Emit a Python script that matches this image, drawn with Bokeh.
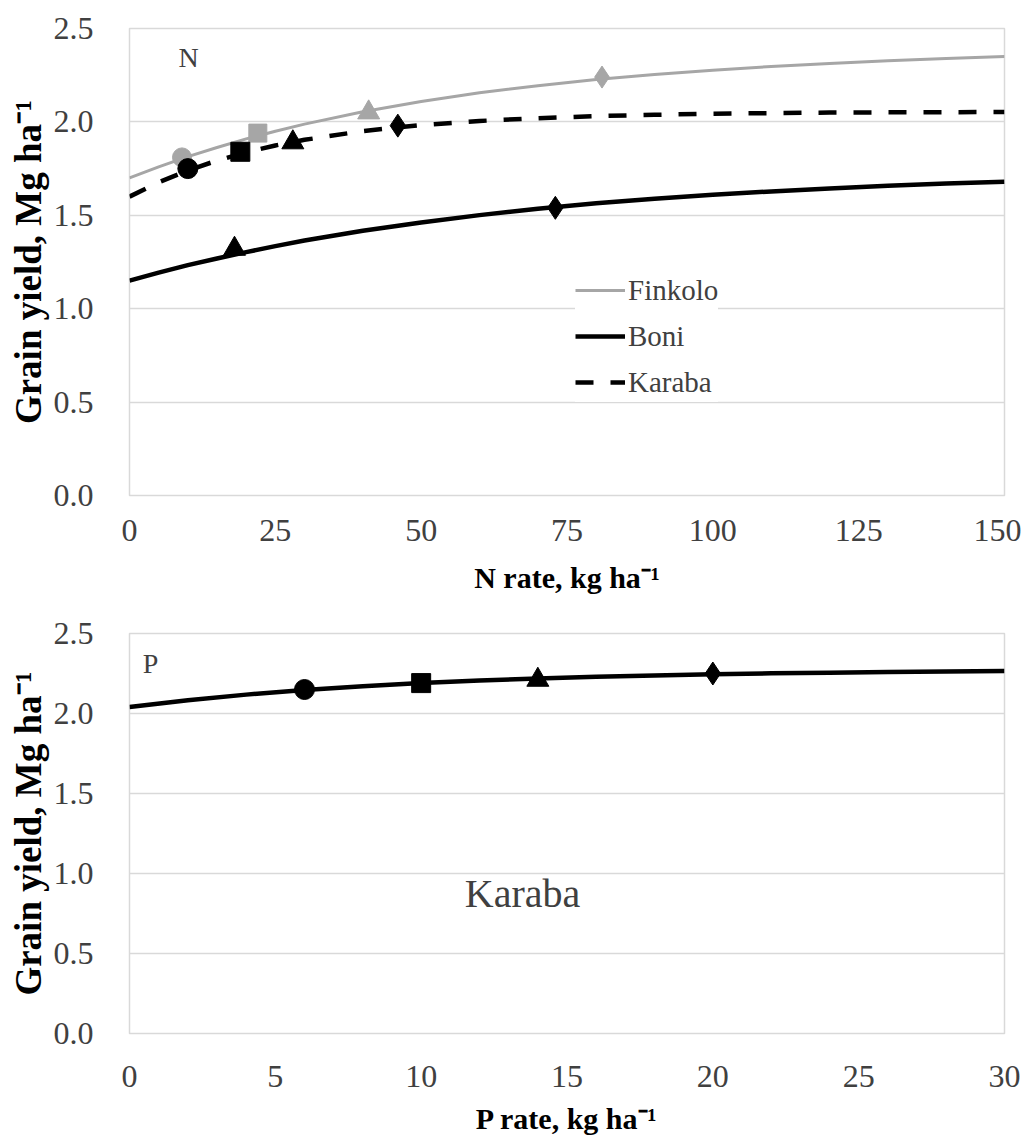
from bokeh.plotting import figure
from bokeh.layouts import column
from bokeh.models import Label, Legend, LegendItem, FixedTicker, NumeralTickFormatter, Range1d
from bokeh.embed import file_html
from bokeh.resources import INLINE

# ---------------- data ----------------
# N panel: fitted response curves (read at these N rates)
n_curve_x = [0, 5, 10, 15, 20, 25, 30, 40, 50, 60, 70, 80, 90, 100, 110, 120, 130, 140, 150]
finkolo_curve = [1.700, 1.759, 1.814, 1.863, 1.909, 1.950, 1.988, 2.054, 2.109, 2.156, 2.194,
                 2.227, 2.254, 2.277, 2.297, 2.313, 2.327, 2.339, 2.350]
boni_curve = [1.150, 1.193, 1.233, 1.269, 1.303, 1.335, 1.365, 1.417, 1.462, 1.501, 1.535,
              1.564, 1.589, 1.610, 1.628, 1.644, 1.658, 1.670, 1.680]
karaba_curve = [1.600, 1.677, 1.740, 1.793, 1.837, 1.874, 1.904, 1.951, 1.983, 2.005, 2.020,
                2.031, 2.038, 2.044, 2.047, 2.050, 2.051, 2.052, 2.053]

# N panel: observed points (circle, square, triangle, diamond)
finkolo_pts_x = [9, 22, 41, 81]
finkolo_pts_y = [1.81, 1.94, 2.05, 2.24]
karaba_pts_x = [10, 19, 28, 46]
karaba_pts_y = [1.75, 1.84, 1.89, 1.98]
boni_pts_x = [18, 73]
boni_pts_y = [1.32, 1.54]
boni_markers = ["triangle", "diamond"]
four_markers = ["circle", "square", "triangle", "diamond"]

# P panel (Karaba)
p_curve_x = [0, 2, 4, 6, 8, 10, 12, 14, 16, 18, 20, 22, 24, 26, 28, 30]
p_curve_y = [2.040, 2.083, 2.118, 2.147, 2.171, 2.190, 2.206, 2.218, 2.229, 2.238, 2.245,
             2.251, 2.255, 2.259, 2.263, 2.265]
p_pts_x = [6, 10, 14, 20]
p_pts_y = [2.15, 2.19, 2.21, 2.25]

n_ticks = [0, 25, 50, 75, 100, 125, 150]
p_ticks = [0, 5, 10, 15, 20, 25, 30]
y_ticks = [0.0, 0.5, 1.0, 1.5, 2.0, 2.5]

GRAY = "#A6A6A6"
BLACK = "#000000"
GRID = "#D9D9D9"
TXT = "#404040"
FONT = "Liberation Serif"


def style(p, xticks, xlabel, tick_standoff, label_standoff):
    p.xgrid.visible = False
    p.ygrid.grid_line_color = GRID
    p.ygrid.grid_line_width = 1.5
    p.outline_line_color = GRID
    p.outline_line_width = 1.5
    p.xaxis.ticker = FixedTicker(ticks=xticks)
    p.yaxis.ticker = FixedTicker(ticks=y_ticks)
    p.yaxis.formatter = NumeralTickFormatter(format="0.0")
    for ax in (p.xaxis[0], p.yaxis[0]):
        ax.axis_line_color = None
        ax.major_tick_line_color = None
        ax.minor_tick_line_color = None
        ax.major_label_text_font = FONT
        ax.major_label_text_font_size = "32px"
        ax.major_label_text_color = TXT
        ax.axis_label_text_font = FONT
        ax.axis_label_text_font_style = "bold"
        ax.axis_label_text_color = BLACK
    p.xaxis.axis_label_text_font_size = "30px"
    p.yaxis.axis_label_text_font_size = "37px"
    p.yaxis.major_label_standoff = 30
    p.xaxis.major_label_standoff = tick_standoff
    p.xaxis.axis_label = xlabel
    p.yaxis.axis_label = "Grain yield, Mg ha\u207b\u00b9"
    p.yaxis.axis_label_standoff = 2
    p.xaxis.axis_label_standoff = label_standoff


# ---------------- top panel (N) ----------------
p1 = figure(output_backend="svg", toolbar_location=None,
            frame_width=875, frame_height=467,
            min_border_left=126, min_border_right=20, min_border_top=28, min_border_bottom=110,
            x_range=Range1d(0, 150), y_range=Range1d(0, 2.5))
style(p1, n_ticks, "N rate, kg ha\u207b\u00b9", 18, 17)

r_fin = p1.line(n_curve_x, finkolo_curve, line_color=GRAY, line_width=3)
r_boni = p1.line(n_curve_x, boni_curve, line_color=BLACK, line_width=4.5)
r_kar = p1.line(n_curve_x, karaba_curve, line_color=BLACK, line_width=4.5, line_dash="18 17")

p1.scatter(finkolo_pts_x, finkolo_pts_y, marker=four_markers, size=[19, 18, 22, 22],
           fill_color=GRAY, line_color=GRAY)
p1.scatter(karaba_pts_x, karaba_pts_y, marker=four_markers, size=[20, 19, 22, 23],
           fill_color=BLACK, line_color=BLACK)
p1.scatter(boni_pts_x, boni_pts_y, marker=boni_markers, size=[22, 23],
           fill_color=BLACK, line_color=BLACK)

legend = Legend(items=[LegendItem(label="Finkolo", renderers=[r_fin]),
                       LegendItem(label="Boni", renderers=[r_boni]),
                       LegendItem(label="Karaba", renderers=[r_kar])],
                location=(446, 93), orientation="vertical")
legend.label_text_font = FONT
legend.label_text_font_size = "29px"
legend.label_text_color = TXT
legend.glyph_width = 50
legend.glyph_height = 40
legend.label_height = 40
legend.spacing = 6
legend.label_standoff = 3
legend.padding = 12
legend.margin = 0
legend.border_line_color = None
legend.background_fill_color = "white"
legend.background_fill_alpha = 1.0
p1.add_layout(legend, "center")

p1.add_layout(Label(x=59, y=438, x_units="screen", y_units="screen", text="N",
                    text_font=FONT, text_font_size="28px", text_color=TXT,
                    text_align="center", text_baseline="middle"))

# ---------------- bottom panel (P) ----------------
p2 = figure(output_backend="svg", toolbar_location=None,
            frame_width=875, frame_height=400,
            min_border_left=129, min_border_right=17, min_border_top=28, min_border_bottom=100,
            x_range=Range1d(0, 30), y_range=Range1d(0, 2.5))
style(p2, p_ticks, "P rate, kg ha\u207b\u00b9", 26, 12)

p2.line(p_curve_x, p_curve_y, line_color=BLACK, line_width=4.5)
p2.scatter(p_pts_x, p_pts_y, marker=four_markers, size=[20, 19, 22, 23],
           fill_color=BLACK, line_color=BLACK)

p2.add_layout(Label(x=21, y=370, x_units="screen", y_units="screen", text="P",
                    text_font=FONT, text_font_size="28px", text_color=TXT,
                    text_align="center", text_baseline="middle"))
p2.add_layout(Label(x=393, y=140, x_units="screen", y_units="screen", text="Karaba",
                    text_font=FONT, text_font_size="40px", text_color=TXT,
                    text_align="center", text_baseline="middle"))

layout = column(p1, p2, spacing=0)
open("out.html", "w").write(file_html(layout, INLINE))
